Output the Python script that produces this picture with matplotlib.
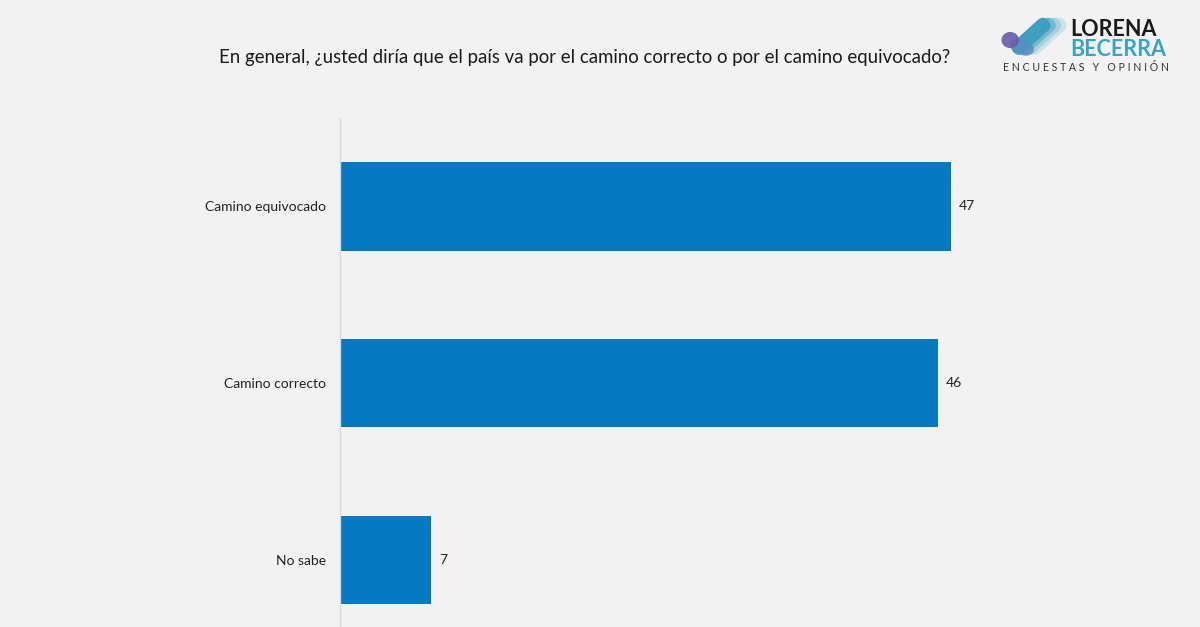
import matplotlib.pyplot as plt
from matplotlib.patches import FancyBboxPatch, Ellipse
import matplotlib.transforms as mtransforms

# datos
categorias = ["Camino equivocado", "Camino correcto", "No sabe"]
valores = [47, 46, 7]
titulo = "En general, ¿usted diría que el país va por el camino correcto o por el camino equivocado?"

fondo = "#f2f2f2"
azul = "#0679c0"

plt.rcParams["font.family"] = ["Lato", "DejaVu Sans"]

fig = plt.figure(figsize=(12, 6.27), dpi=100, facecolor=fondo)
ax = fig.add_axes([0.2833, 0.0, 0.5417, 0.8118], facecolor=fondo)

pos = list(range(len(categorias)))
ax.barh(pos, valores, height=0.5, color=azul)
for p, v in zip(pos, valores):
    ax.text(v + 0.6, p, str(v), va="center", ha="left", fontsize=10, color="#222222")

ax.set_yticks(pos)
ax.set_yticklabels(categorias, fontsize=10, color="#222222")
ax.set_xlim(0, 50)
ax.set_ylim(2.38, -0.5)
ax.set_xticks([])
ax.tick_params(axis="y", length=0, pad=10)
for s in ["top", "right", "bottom"]:
    ax.spines[s].set_visible(False)
ax.spines["left"].set_color("#d9d9d9")
ax.spines["left"].set_linewidth(1)

fig.text(0.4875, 0.908, titulo, ha="center", va="center", fontsize=13.4, color="#1a1a1a")

# logo (aproximado)
lax = fig.add_axes([0.834, 0.905, 0.056, 0.072])
lax.set_xlim(0, 10)
lax.set_ylim(0, 6.7)
lax.axis("off")
tonos = ["#cfe2ea", "#a9d0de", "#74b8d0", "#3f9fc1"]
for i, c in enumerate(tonos):
    dx = (3 - i) * 0.8
    x0, y0 = 2.6 + dx, 0.3
    r = FancyBboxPatch((x0, y0), 7.0, 2.2, boxstyle="round,pad=0,rounding_size=1.1",
                       fc=c, ec="none")
    r.set_transform(mtransforms.Affine2D().rotate_deg_around(x0, y0, 42) + lax.transData)
    lax.add_patch(r)
lax.add_patch(Ellipse((3.2, 1.9), 3.6, 2.4, angle=-25, fc="#5a8fc0", ec="none", alpha=0.85))
lax.add_patch(Ellipse((1.4, 2.9), 2.6, 2.4, fc="#6a5aa8", ec="none", alpha=0.9))

fig.text(0.892, 0.953, "LORENA", fontsize=15.5, fontweight="bold", color="#1a1a1a", va="center")
fig.text(0.892, 0.921, "BECERRA", fontsize=15.5, fontweight="bold", color="#3aa3c4", va="center")
fig.text(0.836, 0.893, "E N C U E S T A S   Y   O P I N I Ó N", fontsize=7.6, color="#333333", va="center")

fig.savefig("out.png", dpi=100, facecolor=fondo)
